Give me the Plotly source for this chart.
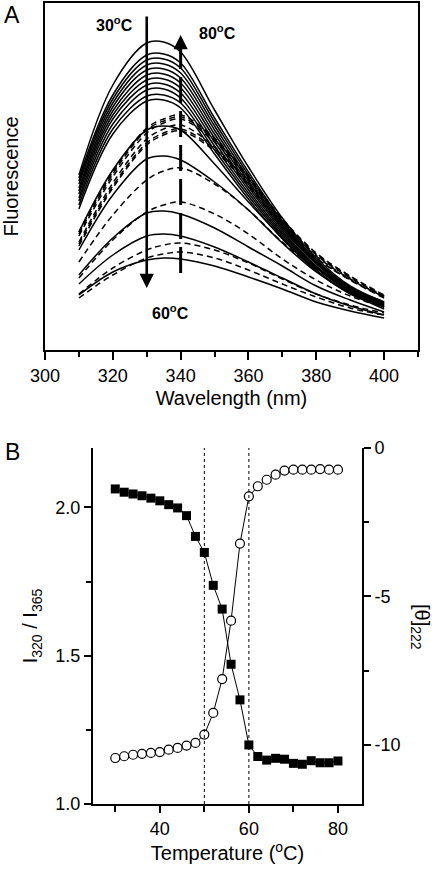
import plotly.graph_objects as go

# ---------------- Panel A data (fluorescence spectra, arbitrary units) ----------------
wavelengths = [310, 320, 330, 335, 340, 350, 360, 370, 380, 390, 400]

solid_temps = [30, 32, 34, 36, 38, 40, 42, 44, 46, 48, 50, 52, 54, 56, 58, 60]
solid_spectra = [
    [175, 265, 307, 308, 298, 240, 183, 132, 92, 64, 48],
    [172, 255, 295, 296, 287, 232, 178, 129, 90, 63, 48],
    [169, 251, 290, 291, 282, 228, 175, 127, 89, 62, 47],
    [166, 247, 285, 286, 277, 224, 172, 125, 88, 62, 47],
    [162, 243, 280, 281, 272, 220, 169, 123, 87, 61, 46],
    [159, 239, 275, 276, 267, 216, 166, 121, 86, 60, 46],
    [156, 235, 270, 271, 262, 212, 163, 119, 84, 60, 45],
    [152, 231, 265, 266, 257, 208, 160, 117, 83, 59, 45],
    [149, 226, 260, 261, 252, 204, 157, 115, 82, 58, 44],
    [145, 221, 254, 255, 247, 200, 154, 113, 80, 57, 44],
    [141, 216, 249, 250, 242, 196, 151, 111, 79, 56, 43],
    [118, 180, 220, 224, 220, 186, 148, 112, 82, 60, 43],
    [100, 155, 191, 194, 190, 168, 140, 107, 78, 57, 41],
    [75, 112, 137, 139, 136, 122, 103, 84, 64, 50, 38],
    [66, 95, 114, 116, 114, 103, 88, 72, 56, 44, 35],
    [55, 78, 90, 92, 91, 84, 73, 61, 48, 39, 32],
]

dashed_temps = [62, 64, 66, 68, 70, 72, 74, 76, 78, 80]
dashed_spectra = [
    [52, 75, 92, 96, 98, 92, 80, 66, 53, 42, 35],
    [56, 82, 100, 105, 107, 100, 87, 71, 56, 45, 37],
    [72, 110, 138, 145, 148, 136, 116, 91, 70, 54, 43],
    [88, 135, 170, 179, 182, 166, 140, 108, 81, 62, 48],
    [104, 162, 205, 215, 219, 199, 164, 123, 92, 70, 52],
    [106, 164, 207, 217, 221, 201, 166, 124, 92, 70, 53],
    [108, 167, 211, 221, 225, 203, 168, 126, 94, 71, 53],
    [114, 173, 217, 227, 231, 208, 171, 129, 95, 72, 54],
    [116, 176, 220, 229, 233, 210, 173, 130, 96, 73, 54],
    [118, 178, 222, 231, 235, 212, 174, 131, 97, 74, 55],
]

# arrows / labels of panel A (wavelength, fluorescence)
arrow_down_x, arrow_down_from, arrow_down_to = 330, 335, 62
arrow_up_x, arrow_up_from, arrow_up_to = 340, 77, 315
label_30 = (320.5, 326)
label_80 = (351.0, 318)
label_60 = (336.9, 38)

# ---------------- Panel B data ----------------
temperature = [30, 32, 34, 36, 38, 40, 42, 44, 46, 48, 50, 52, 54,
               56, 58, 60, 62, 64, 66, 68, 70, 72, 74, 76, 78, 80]
ratio_320_365 = [2.062, 2.051, 2.045, 2.039, 2.031, 2.022, 2.009, 1.998, 1.972,
                 1.902, 1.848, 1.737, 1.657, 1.471, 1.351, 1.199, 1.160, 1.148,
                 1.154, 1.151, 1.137, 1.134, 1.146, 1.139, 1.139, 1.145]
theta_222 = [-10.45, -10.39, -10.34, -10.31, -10.28, -10.25, -10.17, -10.11, -10.03,
             -9.94, -9.66, -8.93, -7.79, -5.82, -3.22, -1.63, -1.29, -1.07,
             -0.90, -0.76, -0.73, -0.73, -0.73, -0.71, -0.73, -0.73]
transition_temps = [50, 60]

right_tickvals = [0, -5, -10]
right_ticktext = ["0", "-5", "-10"]

FONT = "Liberation Sans, Arial, sans-serif"
W, H = 441, 870

fig = go.Figure()

for t, s in zip(solid_temps, solid_spectra):
    fig.add_trace(go.Scatter(x=wavelengths, y=s, mode="lines", name=f"{t} °C",
                             line=dict(color="black", width=1.5, shape="spline"),
                             xaxis="x", yaxis="y", showlegend=False))
for t, s in zip(dashed_temps, dashed_spectra):
    fig.add_trace(go.Scatter(x=wavelengths, y=s, mode="lines", name=f"{t} °C",
                             line=dict(color="black", width=1.5, shape="spline", dash="6px,4px"),
                             xaxis="x", yaxis="y", showlegend=False))

# dashed arrow shaft
fig.add_trace(go.Scatter(x=[arrow_up_x, arrow_up_x], y=[arrow_up_from, arrow_up_to - 14],
                         mode="lines", line=dict(color="black", width=3, dash="26px,8px"),
                         xaxis="x", yaxis="y", showlegend=False, hoverinfo="skip"))

# Panel B traces
fig.add_trace(go.Scatter(x=temperature, y=theta_222, mode="lines+markers", name="[θ]222",
                         line=dict(color="black", width=1),
                         marker=dict(symbol="circle", size=9, color="white",
                                     line=dict(color="black", width=1.2)),
                         xaxis="x2", yaxis="y3", showlegend=False))
fig.add_trace(go.Scatter(x=temperature, y=ratio_320_365, mode="lines+markers", name="I320/I365",
                         line=dict(color="black", width=1),
                         marker=dict(symbol="square", size=9, color="black"),
                         xaxis="x2", yaxis="y2", showlegend=False))

for tt in transition_temps:
    fig.add_shape(type="line", xref="x2", yref="y2 domain", x0=tt, x1=tt, y0=0, y1=1,
                  line=dict(color="black", width=1, dash="dot"))

annotations = [
    dict(x=arrow_down_x, y=arrow_down_to, ax=arrow_down_x, ay=arrow_down_from,
         xref="x", yref="y", axref="x", ayref="y", showarrow=True,
         arrowhead=2, arrowsize=1.1, arrowwidth=2.6, arrowcolor="black", text=""),
    dict(x=arrow_up_x, y=arrow_up_to, ax=arrow_up_x, ay=arrow_up_to - 20,
         xref="x", yref="y", axref="x", ayref="y", showarrow=True,
         arrowhead=2, arrowsize=1.1, arrowwidth=2.6, arrowcolor="black", text=""),
    dict(x=label_30[0], y=label_30[1], xref="x", yref="y", showarrow=False,
         xanchor="center", yanchor="middle",
         text="<b>30<sup>o</sup>C</b>", font=dict(family=FONT, size=16, color="black")),
    dict(x=label_80[0], y=label_80[1], xref="x", yref="y", showarrow=False,
         xanchor="center", yanchor="middle",
         text="<b>80<sup>o</sup>C</b>", font=dict(family=FONT, size=16, color="black")),
    dict(x=label_60[0], y=label_60[1], xref="x", yref="y", showarrow=False,
         xanchor="center", yanchor="middle",
         text="<b>60<sup>o</sup>C</b>", font=dict(family=FONT, size=16, color="black")),
    dict(x=12 / W, y=1 - 15 / H, xref="paper", yref="paper", showarrow=False,
         xanchor="center", yanchor="middle",
         text="A", font=dict(family=FONT, size=23, color="black")),
    dict(x=12 / W, y=1 - 452 / H, xref="paper", yref="paper", showarrow=False,
         xanchor="center", yanchor="middle",
         text="B", font=dict(family=FONT, size=23, color="black")),
    dict(x=421 / W, y=1 - 627 / H, xref="paper", yref="paper", showarrow=False,
         xanchor="center", yanchor="middle",
         text="[θ]<sub>222</sub>", textangle=90,
         font=dict(family=FONT, size=20, color="black")),
]

axis_common = dict(showgrid=False, zeroline=False, showline=True, linecolor="black",
                   linewidth=2, tickcolor="black", tickwidth=1.5,
                   tickfont=dict(family=FONT, size=18, color="black"), automargin=False)

fig.update_layout(
    width=W, height=H,
    margin=dict(l=0, r=0, t=0, b=0),
    paper_bgcolor="white", plot_bgcolor="white",
    font=dict(family=FONT, color="black"),
    annotations=annotations,
    xaxis=dict(**axis_common, domain=[45 / W, 418 / W], anchor="y", range=[300, 410],
               mirror=True, ticks="outside", ticklen=8, tick0=300, dtick=20,
               minor=dict(ticks="outside", ticklen=5, dtick=10, tick0=300, tickcolor="black", tickwidth=1.5),
               title=dict(text="Wavelength (nm)", font=dict(family=FONT, size=20, color="black"), standoff=6)),
    yaxis=dict(**axis_common, domain=[1 - 350 / H, 1 - 3 / H], anchor="x", range=[0, 347],
               mirror=True, ticks="", showticklabels=False,
               title=dict(text="Fluorescence", font=dict(family=FONT, size=20, color="black"), standoff=24)),
    xaxis2=dict(**axis_common, domain=[93 / W, 362 / W], anchor="y2", range=[25, 85.4],
                ticks="outside", ticklen=7, tick0=40, dtick=20,
                minor=dict(ticks="outside", ticklen=6, dtick=10, tick0=30, tickcolor="black", tickwidth=1.5),
                title=dict(text="Temperature (<sup>o</sup>C)", font=dict(family=FONT, size=20, color="black"), standoff=6)),
    yaxis2=dict(**axis_common, domain=[1 - 804 / H, 1 - 448 / H], anchor="x2", range=[1.0, 2.2],
                ticks="outside", ticklen=7, tick0=1.0, dtick=0.5, tickformat=".1f",
                minor=dict(ticks="outside", ticklen=5, dtick=0.25, tick0=1.0, tickcolor="black", tickwidth=1.5),
                title=dict(text="I<sub>320</sub> / I<sub>365</sub>", font=dict(family=FONT, size=20, color="black"), standoff=12)),
    yaxis3=dict(**axis_common, domain=[1 - 804 / H, 1 - 448 / H], anchor="x2", overlaying="y2",
                side="right", range=[-12, 0], ticks="outside", ticklen=7,
                tickvals=right_tickvals, ticktext=right_ticktext,
                minor=dict(ticks="outside", ticklen=5, tickvals=[-2.5, -7.5], tickcolor="black", tickwidth=1.5)),
)

fig.write_html("out.html", config={"displayModeBar": False},
               post_script="document.body.style.margin='0';")
